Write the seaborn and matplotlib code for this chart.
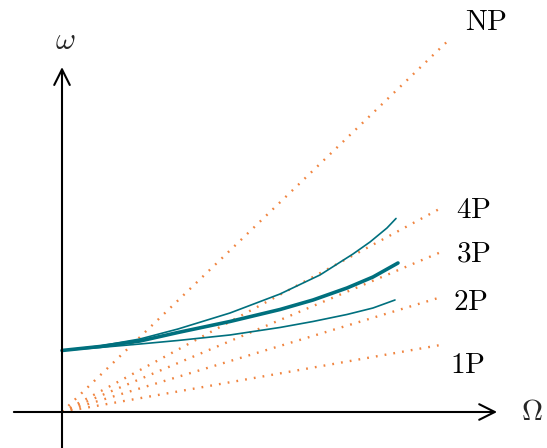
import matplotlib
matplotlib.use("Agg")
import matplotlib.pyplot as plt
import seaborn as sns
import pandas as pd

sns.set_theme(style="white")
plt.rcParams["mathtext.fontset"] = "cm"
plt.rcParams["font.family"] = ["DejaVu Serif"]

# Rotor speed Omega and natural frequencies omega of three modes (Campbell diagram)
speed_upper = [0.0, 1.003, 2.058, 3.061, 4.433, 5.752, 6.807, 7.678, 8.127, 8.575, 8.813]
freq_upper = [1.623, 1.741, 1.926, 2.190, 2.612, 3.113, 3.615, 4.169, 4.485, 4.855, 5.106]

speed_mid = [0.0, 1.003, 2.058, 3.061, 4.433, 5.752, 6.623, 7.520, 8.206, 8.865]
freq_mid = [1.623, 1.728, 1.873, 2.098, 2.388, 2.704, 2.955, 3.272, 3.562, 3.931]

speed_lower = [0.0, 1.003, 2.058, 3.061, 4.433, 5.752, 6.623, 7.520, 8.206, 8.786]
freq_lower = [1.623, 1.702, 1.794, 1.887, 2.032, 2.230, 2.388, 2.573, 2.744, 2.955]

# Excitation orders: end points of the rays from the origin
order_labels = ["1P", "2P", "3P", "4P", "NP"]
order_end_x = [10.0, 10.0, 10.0, 10.0, 10.18]
order_end_y = [1.77, 3.03, 4.22, 5.38, 9.79]
label_x = [10.71, 10.77, 10.85, 10.85, 11.2]
label_y = [1.24, 2.90, 4.17, 5.33, 10.3]

teal = "#00707E"
orange = "#F0843F"

fig = plt.figure(figsize=(5.47, 4.48), dpi=100)
ax = fig.add_axes([0, 0, 1, 1])
ax.set_xlim(-1.636, 12.797)
ax.set_ylim(-0.95, 10.87)
ax.axis("off")

# excitation rays
for ex, ey in zip(order_end_x, order_end_y):
    ray = pd.DataFrame({"x": [0.0, ex], "y": [0.0, ey]})
    sns.lineplot(data=ray, x="x", y="y", ax=ax, color=orange, linewidth=1.7)
    ax.lines[-1].set_dashes((0.75, 3.0))
    ax.lines[-1].set_dash_capstyle("butt")

for lab, lx, ly in zip(order_labels, label_x, label_y):
    ax.text(lx, ly, r"$\mathrm{" + lab + "}$", fontsize=21, ha="center", va="center",
            color="black")

# eigenfrequency curves
for xs, ys, lw in [(speed_upper, freq_upper, 1.2),
                   (speed_lower, freq_lower, 1.2),
                   (speed_mid, freq_mid, 2.6)]:
    df = pd.DataFrame({"x": xs, "y": ys})
    sns.lineplot(data=df, x="x", y="y", ax=ax, color=teal, linewidth=lw,
                 sort=False, estimator=None)
    ax.lines[-1].set_solid_joinstyle("round")

# axes arrows
arrow = dict(arrowstyle="->", color="black", lw=1.5, mutation_scale=28,
             shrinkA=0, shrinkB=0)
ax.annotate("", xy=(11.48, 0), xytext=(-1.27, 0), arrowprops=arrow)
ax.annotate("", xy=(0, 9.1), xytext=(0, -0.95), arrowprops=arrow)
ax.text(12.4, 0.0, r"$\Omega$", fontsize=21, ha="center", va="center")
ax.text(0.08, 9.8, r"$\omega$", fontsize=22, ha="center", va="center")

ax.set_xlabel("")
ax.set_ylabel("")
fig.savefig("out.png", dpi=100)
